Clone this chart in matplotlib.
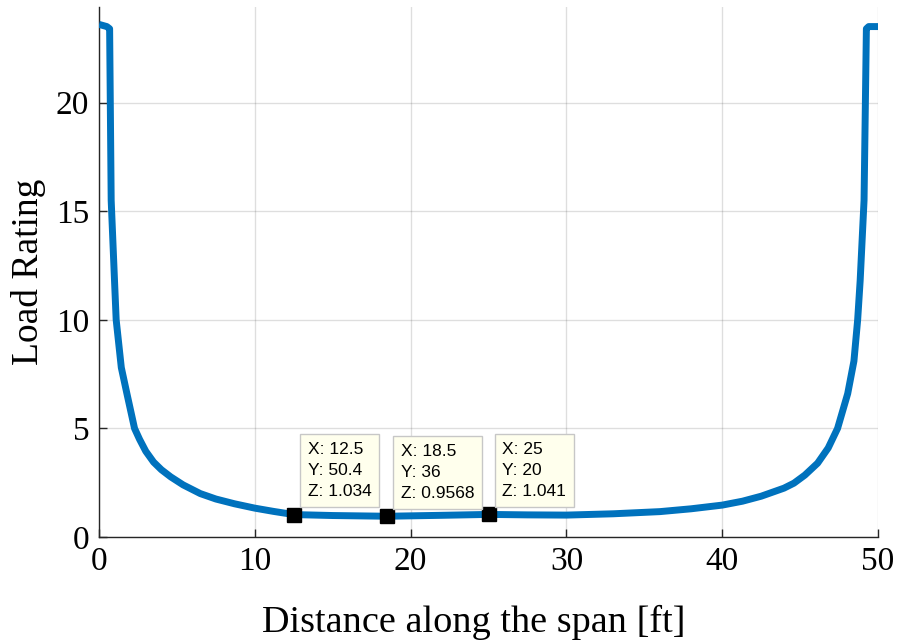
import matplotlib
matplotlib.use("Agg")
import matplotlib.pyplot as plt

# Load rating along the span
distance = [0.0, 0.5, 0.68, 0.78, 1.0, 1.1, 1.43, 1.79, 2.28, 2.6, 3.0, 3.5,
            4.0, 4.6, 5.4, 6.5, 7.5, 8.7, 10.0, 11.2, 12.5, 15.0, 18.5, 22.0,
            25.0, 27.5, 30.0, 33.0, 36.0, 38.0, 40.0, 41.3, 42.5, 43.96, 44.6,
            45.3, 46.12, 46.8, 47.4, 48.05, 48.45, 48.69, 48.85, 49.1, 49.25,
            49.4, 50.0]
rating = [23.6, 23.5, 23.4, 15.5, 11.7, 10.0, 7.8, 6.6, 5.0, 4.5, 3.95, 3.45,
          3.1, 2.77, 2.4, 2.0, 1.75, 1.53, 1.33, 1.18, 1.034, 0.99, 0.9568,
          1.0, 1.041, 1.02, 1.01, 1.07, 1.17, 1.3, 1.47, 1.65, 1.88, 2.25, 2.48,
          2.85, 3.4, 4.1, 5.0, 6.6, 8.1, 10.0, 11.8, 15.5, 23.4, 23.5, 23.5]

# data tips
tip_x = [12.5, 18.5, 25.0]
tip_y = [50.4, 36, 20]
tip_z = ["1.034", "0.9568", "1.041"]
tip_x_txt = ["12.5", "18.5", "25"]

x_ticks = [0, 10, 20, 30, 40, 50]
y_ticks = [0, 5, 10, 15, 20]

BLUE = (0.0, 0.447, 0.741)
AX_COL = (0.15, 0.15, 0.15)

fig = plt.figure(figsize=(8.97, 6.44), dpi=100)
ax = fig.add_axes([0.1104, 0.1661, 0.8685, 0.823])

ax.plot(distance, rating, color=BLUE, linewidth=5, solid_joinstyle="round",
        solid_capstyle="butt", zorder=3)

for xv, yl, zs, xs in zip(tip_x, tip_y, tip_z, tip_x_txt):
    zv = float(zs)
    ax.plot([xv], [zv], marker="s", color="black", markersize=9.5, zorder=5,
            linestyle="none")
    ax.annotate(f"X: {xs}\nY: {yl}\nZ: {zs}", xy=(xv, zv), xytext=(10, 11),
                textcoords="offset points", ha="left", va="bottom",
                family="Liberation Sans", fontsize=12.5, linespacing=1.5,
                bbox=dict(boxstyle="square,pad=0.45", facecolor=(1, 1, 0.93),
                          edgecolor=(0.78, 0.78, 0.78), linewidth=1),
                zorder=6)

ax.set_xlim(0, 50)
ax.set_ylim(0, 24.4)
ax.set_xticks(x_ticks)
ax.set_yticks(y_ticks)
ax.grid(True, color=(0.15, 0.15, 0.15), alpha=0.15, linewidth=1)
ax.set_axisbelow(True)

for side in ("top", "right"):
    ax.spines[side].set_visible(False)
for side in ("left", "bottom"):
    ax.spines[side].set_color(AX_COL)
    ax.spines[side].set_linewidth(1)

ax.tick_params(direction="in", length=6, width=1, color=AX_COL,
               labelsize=24, labelcolor="black", pad=7)
for lab in ax.get_xticklabels() + ax.get_yticklabels():
    lab.set_family("Liberation Serif")

ax.set_xlabel("Distance along the span [ft]", family="Liberation Serif",
              fontsize=27.5, labelpad=20)
ax.xaxis.label.set_x(0.481)
ax.set_ylabel("Load Rating", family="Liberation Serif", fontsize=27, labelpad=7)

fig.savefig("out.png", dpi=100)
